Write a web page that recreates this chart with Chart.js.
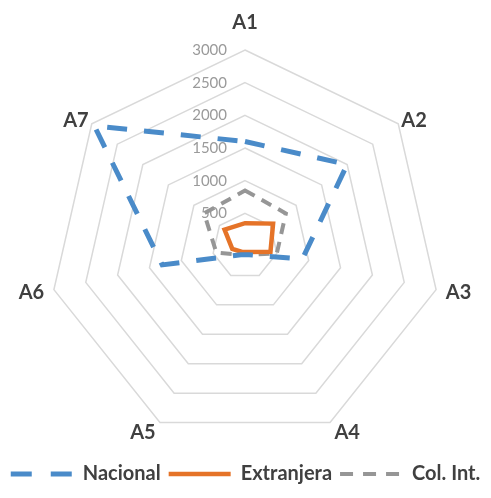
<!DOCTYPE html>
<html>
<head>
<meta charset="utf-8">
<script src="https://cdn.jsdelivr.net/npm/chart.js@4.4.1/dist/chart.umd.min.js"></script>
<style>
  html, body { margin: 0; padding: 0; background: #ffffff; }
  #wrap { width: 491px; height: 498px; position: relative; }
</style>
</head>
<body>
<div id="wrap"><canvas id="chart"></canvas></div>
<script>
// Categories and series values
const categories = ['A1', 'A2', 'A3', 'A4', 'A5', 'A6', 'A7'];
const nacional   = [1600, 2000, 900, 150, 150, 1300, 2950];
const extranjera = [350, 550, 400, 100, 100, 200, 400];
const colInt     = [850, 800, 500, 150, 150, 450, 800];
const tickValues = [500, 1000, 1500, 2000, 2500, 3000];
const seriesNames = ['Nacional', 'Extranjera', 'Col. Int.'];

// Radial value labels, drawn left of the vertical axis before the series lines
const tickLabelPlugin = {
  id: 'tickLabels',
  beforeDatasetsDraw(chart) {
    const r = chart.scales.r;
    const ctx = chart.ctx;
    ctx.save();
    ctx.font = '15px Lato';
    ctx.fillStyle = '#9a9a9a';
    ctx.textAlign = 'right';
    ctx.textBaseline = 'middle';
    tickValues.forEach(v => {
      const d = r.getDistanceFromCenterForValue(v);
      ctx.fillText(String(v), r.xCenter - 18, r.yCenter - d);
    });
    ctx.restore();
  }
};

const legendDashes = [[21, 19], [], [13, 10]];
// Gap between each outer vertex and its category label
const labelGaps = [26, 4, 10, 10, 10, 10, 4];

new Chart(document.getElementById('chart'), {
  type: 'radar',
  data: {
    labels: categories,
    datasets: [
      {
        label: seriesNames[0],
        data: nacional,
        borderColor: '#4a8bc9',
        borderWidth: 5,
        borderDash: [20, 17],
        fill: false,
        pointRadius: 0,
        pointHoverRadius: 0
      },
      {
        label: seriesNames[1],
        data: extranjera,
        borderColor: '#e57328',
        borderWidth: 4.5,
        fill: false,
        pointRadius: 0,
        pointHoverRadius: 0
      },
      {
        label: seriesNames[2],
        data: colInt,
        borderColor: '#969696',
        borderWidth: 4,
        borderDash: [11, 8],
        fill: false,
        pointRadius: 0,
        pointHoverRadius: 0
      }
    ]
  },
  options: {
    responsive: true,
    maintainAspectRatio: false,
    animation: false,
    layout: { padding: { top: 8, bottom: 4, left: 0, right: 0 } },
    scales: {
      r: {
        min: 0,
        max: 3000,
        ticks: { stepSize: 500, display: false },
        grid: { color: '#d9d9d9', lineWidth: 1.5 },
        angleLines: { display: false },
        pointLabels: {
          color: '#404040',
          font: { family: 'Lato', weight: 'bold', size: 20, lineHeight: 0.1 },
          padding: ctx => labelGaps[ctx.index]
        }
      }
    },
    plugins: {
      tooltip: { enabled: false },
      legend: {
        position: 'bottom',
        labels: {
          color: '#404040',
          font: { family: 'Lato', weight: 'bold', size: 20 },
          usePointStyle: true,
          pointStyle: 'line',
          pointStyleWidth: 62,
          padding: 8,
          generateLabels(chart) {
            const items = Chart.defaults.plugins.legend.labels.generateLabels(chart);
            items.forEach((it, i) => { it.lineDash = legendDashes[i]; });
            return items;
          }
        }
      }
    }
  },
  plugins: [tickLabelPlugin]
});
</script>
</body>
</html>
